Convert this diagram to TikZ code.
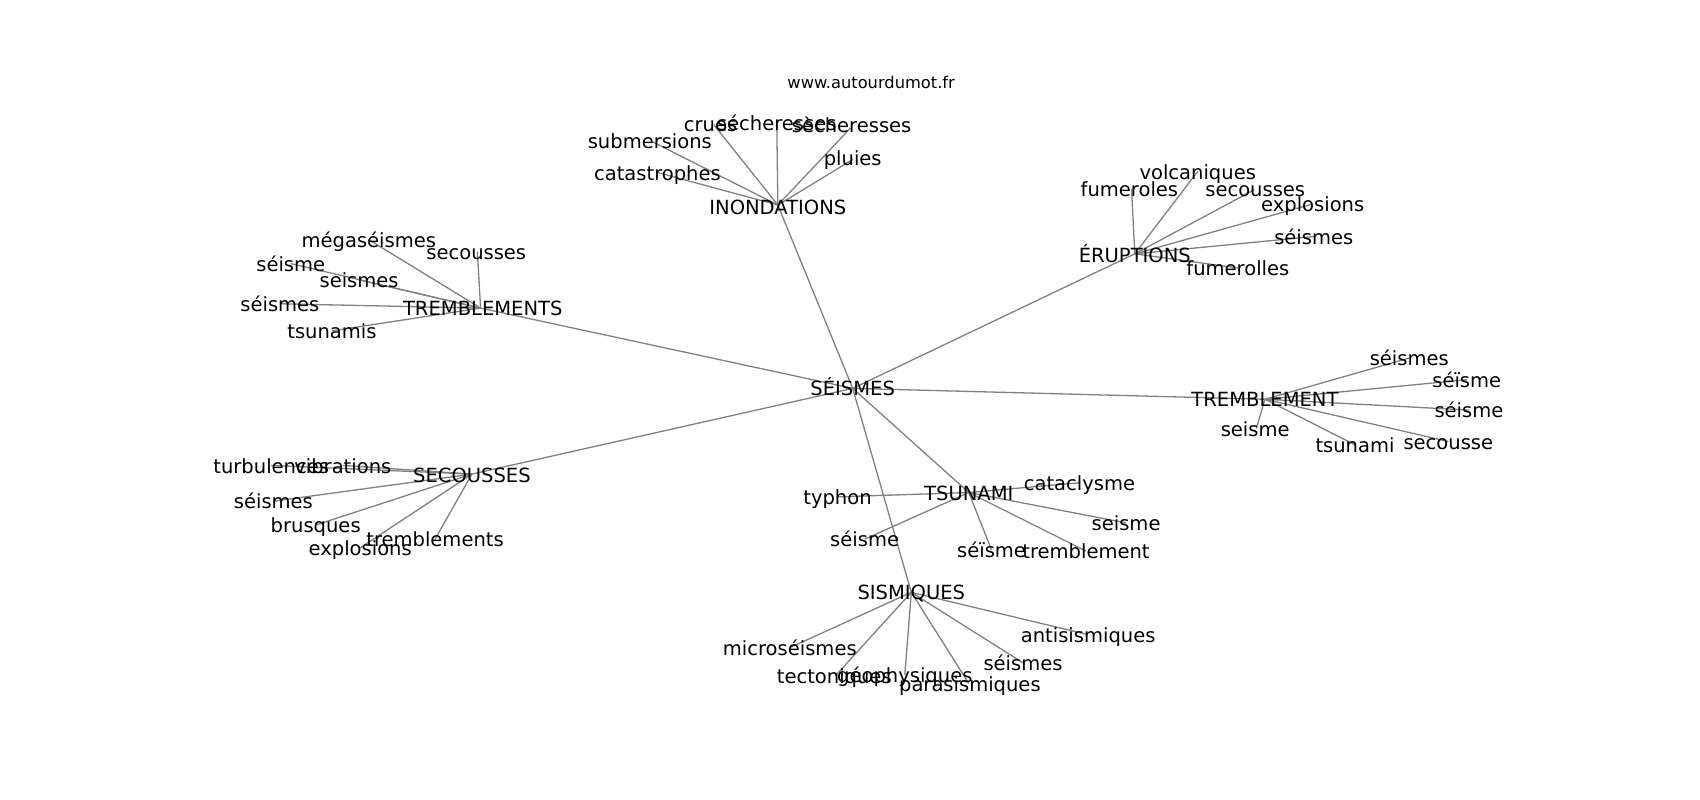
\documentclass[tikz,border=0pt]{standalone}
\usepackage{fontspec}
\setmainfont{DejaVu Sans}
\begin{document}
\begin{tikzpicture}[x=0.5pt,y=-0.5pt,
  lbl/.style={inner sep=0pt,font=\fontsize{9}{10}\selectfont,text height=0.7em,text depth=0em},
  url/.style={inner sep=0pt,font=\fontsize{7.5}{9}\selectfont},
  edge/.style={draw=black!50,line width=0.6pt}]
\useasboundingbox (0,0) rectangle (1567,737);
% edges first (drawn under texts) using coordinates; nodes defined below
\coordinate (S) at (786,358);
\coordinate (IN) at (717,189);
\coordinate (TS) at (443,284);
\coordinate (ER) at (1046,234);
\coordinate (TR) at (1166,368);
\coordinate (SE) at (435,437);
\coordinate (TU) at (893,454);
\coordinate (SI) at (840,546);
% children
\coordinate (in1) at (658,115);
\coordinate (in2) at (716,113);
\coordinate (in3) at (784,118);
\coordinate (in4) at (602,131);
\coordinate (in5) at (606,159);
\coordinate (in6) at (786,147);
\coordinate (ts1) at (340,221);
\coordinate (ts2) at (440,232);
\coordinate (ts3) at (268,243);
\coordinate (ts4) at (331,258);
\coordinate (ts5) at (258,280);
\coordinate (ts6) at (306,305);
\coordinate (er1) at (1104,158);
\coordinate (er2) at (1043,174);
\coordinate (er3) at (1156,175);
\coordinate (er4) at (1210,188);
\coordinate (er5) at (1211,218);
\coordinate (er6) at (1141,247);
\coordinate (tr1) at (1299,330);
\coordinate (tr2) at (1352,350);
\coordinate (tr3) at (1354,378);
\coordinate (tr4) at (1335,407);
\coordinate (tr5) at (1249,410);
\coordinate (tr6) at (1158,395);
\coordinate (se1) at (250,429);
\coordinate (se2) at (316,429);
\coordinate (se3) at (252,462);
\coordinate (se4) at (291,484);
\coordinate (se5) at (332,505);
\coordinate (se6) at (401,497);
\coordinate (tu1) at (995,445);
\coordinate (tu2) at (772,458);
\coordinate (tu3) at (1038,482);
\coordinate (tu4) at (797,497);
\coordinate (tu5) at (914,507);
\coordinate (tu6) at (1001,508);
\coordinate (si1) at (1003,585);
\coordinate (si2) at (728,597);
\coordinate (si3) at (943,611);
\coordinate (si4) at (770,623);
\coordinate (si5) at (834,622);
\coordinate (si6) at (893,630);
\foreach \c in {IN,TS,ER,TR,SE,TU,SI} \draw[edge] (S) -- (\c);
\foreach \c in {in1,in2,in3,in4,in5,in6} \draw[edge] (IN) -- (\c);
\foreach \c in {ts1,ts2,ts3,ts4,ts5,ts6} \draw[edge] (TS) -- (\c);
\foreach \c in {er1,er2,er3,er4,er5,er6} \draw[edge] (ER) -- (\c);
\foreach \c in {tr1,tr2,tr3,tr4,tr5,tr6} \draw[edge] (TR) -- (\c);
\foreach \c in {se1,se2,se3,se4,se5,se6} \draw[edge] (SE) -- (\c);
\foreach \c in {tu1,tu2,tu3,tu4,tu5,tu6} \draw[edge] (TU) -- (\c);
\foreach \c in {si1,si2,si3,si4,si5,si6} \draw[edge] (SI) -- (\c);
% labels
\node[url] (u) at (803,76) {www.autourdumot.fr};
\node[lbl] (nS) at (S) {SÉISMES};
\node[lbl] (nIN) at (717,191) {INONDATIONS};
\node[lbl] (nTS) at (445,284) {TREMBLEMENTS};
\node[lbl] (nER) at (1046,235) {ÉRUPTIONS};
\node[lbl] (nTR) at (TR) {TREMBLEMENT};
\node[lbl] (nSE) at (435,438) {SECOUSSES};
\node[lbl] (nTU) at (TU) {TSUNAMI};
\node[lbl] (nSI) at (SI) {SISMIQUES};
\node[lbl] (nin1) at (655,114) {crues};
\node[lbl] (nin2) at (in2) {sécheresses};
\node[lbl] (nin3) at (785,115) {sècheresses};
\node[lbl] (nin4) at (599,130) {submersions};
\node[lbl] (nin5) at (in5) {catastrophes};
\node[lbl] (nin6) at (786,146) {pluies};
\node[lbl] (nts1) at (ts1) {mégaséismes};
\node[lbl] (nts2) at (439,232) {secousses};
\node[lbl] (nts3) at (ts3) {séisme};
\node[lbl] (nts4) at (ts4) {seismes};
\node[lbl] (nts5) at (ts5) {séismes};
\node[lbl] (nts6) at (ts6) {tsunamis};
\node[lbl] (ner1) at (er1) {volcaniques};
\node[lbl] (ner2) at (1041,174) {fumeroles};
\node[lbl] (ner3) at (1157,174) {secousses};
\node[lbl] (ner4) at (er4) {explosions};
\node[lbl] (ner5) at (er5) {séismes};
\node[lbl] (ner6) at (er6) {fumerolles};
\node[lbl] (ntr1) at (tr1) {séismes};
\node[lbl] (ntr2) at (tr2) {séïsme};
\node[lbl] (ntr3) at (tr3) {séisme};
\node[lbl] (ntr4) at (tr4) {secousse};
\node[lbl] (ntr5) at (tr5) {tsunami};
\node[lbl] (ntr6) at (1157,395) {seisme};
\node[lbl] (nse1) at (se1) {turbulences};
\node[lbl] (nse2) at (se2) {vibrations};
\node[lbl] (nse3) at (se3) {séismes};
\node[lbl] (nse4) at (se4) {brusques};
\node[lbl] (nse5) at (se5) {explosions};
\node[lbl] (nse6) at (se6) {tremblements};
\node[lbl] (ntu1) at (tu1) {cataclysme};
\node[lbl] (ntu2) at (tu2) {typhon};
\node[lbl] (ntu3) at (tu3) {seisme};
\node[lbl] (ntu4) at (tu4) {séisme};
\node[lbl] (ntu5) at (tu5) {séïsme};
\node[lbl] (ntu6) at (tu6) {tremblement};
\node[lbl] (nsi1) at (si1) {antisismiques};
\node[lbl] (nsi2) at (si2) {microséismes};
\node[lbl] (nsi3) at (si3) {séismes};
\node[lbl] (nsi4) at (769,623) {tectoniques};
\node[lbl] (nsi5) at (si5) {géophysiques};
\node[lbl] (nsi6) at (894,630) {parasismiques};
\end{tikzpicture}
\end{document}
